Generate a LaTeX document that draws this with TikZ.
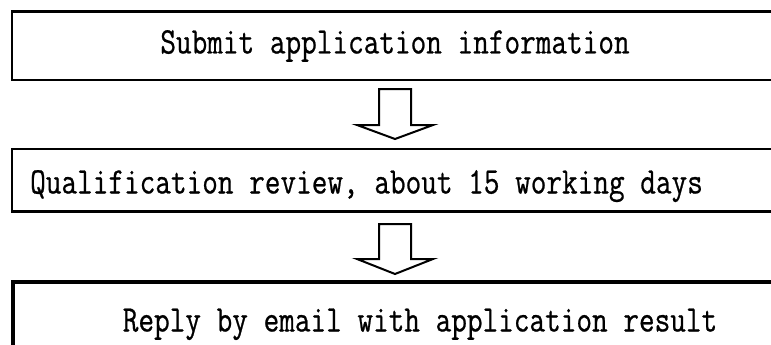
\documentclass[tikz,border=0pt]{standalone}
\usepackage{fontspec}
\newfontfamily\stepfont[FakeStretch=0.81,FakeBold=0.6]{Latin Modern Mono}

\begin{document}
\begin{tikzpicture}[x=1pt,y=-1pt]
	\clip (0,0) rectangle (771,345);
	\node[draw,line width=2.8pt,inner sep=0,outer sep=0,anchor=north west,minimum width=800pt,minimum height=68.5pt] (box1) at (12,11.5) {};
	\node[draw,line width=2.8pt,inner sep=0,outer sep=0,anchor=north west,minimum width=800pt,minimum height=62.5pt] (box2) at (12,149) {};
	\node[draw,line width=3.2pt,inner sep=0,outer sep=0,anchor=north west,minimum width=800pt,minimum height=100pt] (box3) at (13,282) {};
	\node[font=\stepfont\fontsize{37.5}{38}\selectfont,inner sep=0,anchor=base] (txt1) at (395,53.5) {Submit application information};
	\node[font=\stepfont\fontsize{37.5}{38}\selectfont,inner sep=0,anchor=base west] (txt2) at (30,193.5) {Qualification review, about 15 working days};
	\node[font=\stepfont\fontsize{37.5}{38}\selectfont,inner sep=0,anchor=base] (txt3) at (420,331.5) {Reply by email with application result};
	\coordinate (arr1) at (395,89);
	\coordinate (arr2) at (395,224);
	\draw[line width=2pt,line join=miter] (arr1) ++(-16,0) -- ++(32,0) -- ++(0,36) -- ++(22,0) -- ++(-38,14) -- ++(-38,-14) -- ++(22,0) -- cycle;
	\draw[line width=2pt,line join=miter] (arr2) ++(-16,0) -- ++(32,0) -- ++(0,35) -- ++(22,0) -- ++(-38,15) -- ++(-38,-15) -- ++(22,0) -- cycle;
\end{tikzpicture}
\end{document}
